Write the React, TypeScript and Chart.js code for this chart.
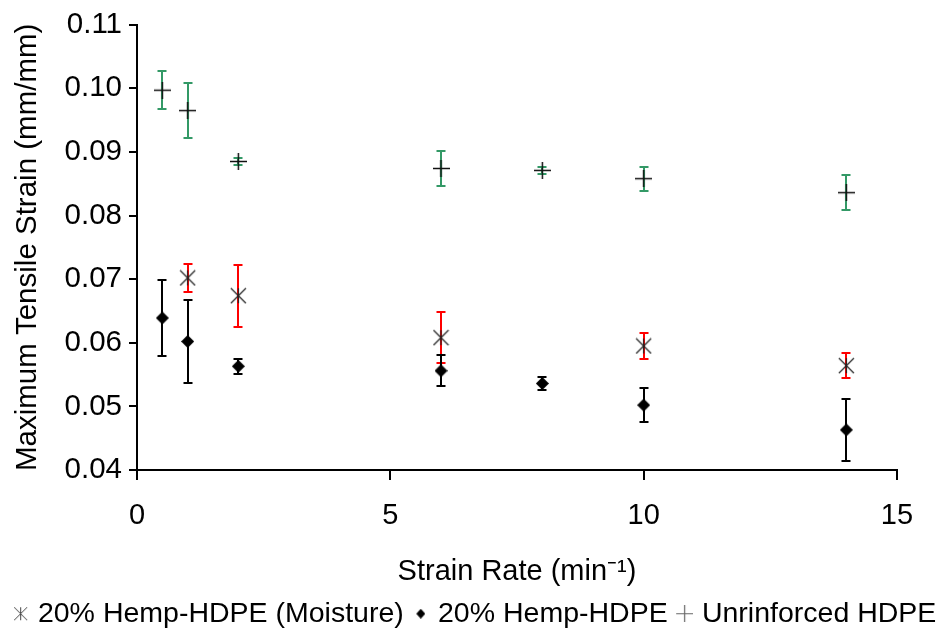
import React, { useEffect, useRef } from "react";
import { Chart, registerables } from "chart.js";

Chart.register(...registerables);

// ---- Data ----
const seriesLabels = ["20% Hemp-HDPE (Moisture)", "20% Hemp-HDPE", "Unrinforced HDPE"];

const moistureRates = [1, 2, 6, 10, 14];
const moistureStrain = [0.0702, 0.0674, 0.0608, 0.0595, 0.0564];
const moistureErr = [0.0022, 0.0049, 0.004, 0.0021, 0.002];

const hempRates = [0.5, 1, 2, 6, 8, 10, 14];
const hempStrain = [0.0639, 0.0602, 0.0563, 0.0556, 0.0536, 0.0502, 0.0463];
const hempErr = [0.006, 0.0066, 0.0012, 0.0024, 0.001, 0.0027, 0.0049];

const hdpeRates = [0.5, 1, 2, 6, 8, 10, 14];
const hdpeStrain = [0.0997, 0.0965, 0.0885, 0.0874, 0.0871, 0.0858, 0.0836];
const hdpeErr = [0.003, 0.0043, 0.0006, 0.0027, 0.0006, 0.0019, 0.0027];

const xMin = 0;
const xMax = 15;
const xStep = 5;
const yMin = 0.04;
const yMax = 0.11;
const yStep = 0.01;

const xTitle = "Strain Rate (min\u207B\u00B9)";
const yTitle = "Maximum Tensile Strain (mm/mm)";

const FONT = "'Liberation Sans', Arial, sans-serif";

// ---- marker images ----
function makeCanvas(w: number, h: number, draw: (c: CanvasRenderingContext2D) => void) {
  const cv = document.createElement("canvas");
  cv.width = w;
  cv.height = h;
  const c = cv.getContext("2d")!;
  draw(c);
  return cv;
}

function starMarker(size: number, color: string, lw: number) {
  return makeCanvas(size, size, (c) => {
    c.strokeStyle = color;
    c.lineWidth = lw;
    c.beginPath();
    c.moveTo(1, 1);
    c.lineTo(size - 1, size - 1);
    c.moveTo(size - 1, 1);
    c.lineTo(1, size - 1);
    c.moveTo(size / 2, 1);
    c.lineTo(size / 2, size - 1);
    c.stroke();
  });
}

function plusMarker(size: number, color: string, lw: number) {
  return makeCanvas(size, size, (c) => {
    c.strokeStyle = color;
    c.lineWidth = lw;
    c.beginPath();
    c.moveTo(0, size / 2);
    c.lineTo(size, size / 2);
    c.moveTo(size / 2, 0);
    c.lineTo(size / 2, size);
    c.stroke();
  });
}

function diamondMarker(w: number, h: number, color: string) {
  return makeCanvas(w, h, (c) => {
    c.fillStyle = color;
    c.beginPath();
    c.moveTo(w / 2, 0);
    c.lineTo(w, h / 2);
    c.lineTo(w / 2, h);
    c.lineTo(0, h / 2);
    c.closePath();
    c.fill();
  });
}

// shift a marker image to the right inside a wider transparent canvas
function shiftRight(src: HTMLCanvasElement, off: number) {
  return makeCanvas(src.width + 2 * off, src.height, (c) => {
    c.drawImage(src, 2 * off, 0);
  });
}

const errorBarPlugin = {
  id: "errorBars",
  beforeDatasetsDraw(chart: any) {
    const { ctx } = chart;
    const xs = chart.scales.x;
    const ys = chart.scales.y;
    const drawOrder = [2, 0, 1];
    drawOrder.forEach((i) => {
      const ds = chart.data.datasets[i];
      const meta = chart.getDatasetMeta(i);
      if (!ds || meta.hidden) return;
      ctx.save();
      ctx.strokeStyle = ds.errorColor;
      ctx.lineWidth = 2;
      ds.data.forEach((p: any, j: number) => {
        const e = ds.errors[j];
        const px = Math.round(xs.getPixelForValue(p.x));
        const top = Math.round(ys.getPixelForValue(p.y + e));
        const bot = Math.round(ys.getPixelForValue(p.y - e));
        ctx.beginPath();
        ctx.moveTo(px, top);
        ctx.lineTo(px, bot);
        ctx.moveTo(px - 4.5, top);
        ctx.lineTo(px + 4.5, top);
        ctx.moveTo(px - 4.5, bot);
        ctx.lineTo(px + 4.5, bot);
        ctx.stroke();
      });
      ctx.restore();
    });
  },
};

export default function App() {
  const ref = useRef<HTMLCanvasElement | null>(null);

  useEffect(() => {
    document.body.style.margin = "0";
    const canvas = ref.current;
    if (!canvas) return;

    const chartMarkers = [
      starMarker(17, "#222222", 1.2),
      diamondMarker(13, 13, "#000000"),
      plusMarker(17, "#111111", 1.5),
    ];
    const legendMarkers = [
      shiftRight(starMarker(15, "#444444", 1), 7),
      shiftRight(diamondMarker(9, 10, "#000000"), 7),
      shiftRight(plusMarker(17, "#666666", 1.2), 7),
    ];

    const chart = new Chart(canvas, {
      type: "scatter",
      data: {
        datasets: [
          {
            label: seriesLabels[0],
            data: moistureRates.map((x, i) => ({ x, y: moistureStrain[i] })),
            errors: moistureErr,
            errorColor: "#ff0000",
            pointStyle: chartMarkers[0],
            pointRadius: 6,
            backgroundColor: "#333333",
            borderColor: "#333333",
          } as any,
          {
            label: seriesLabels[1],
            data: hempRates.map((x, i) => ({ x, y: hempStrain[i] })),
            errors: hempErr,
            errorColor: "#000000",
            pointStyle: chartMarkers[1],
            pointRadius: 6,
            backgroundColor: "#000000",
            borderColor: "#000000",
          } as any,
          {
            label: seriesLabels[2],
            data: hdpeRates.map((x, i) => ({ x, y: hdpeStrain[i] })),
            errors: hdpeErr,
            errorColor: "#339966",
            pointStyle: chartMarkers[2],
            pointRadius: 6,
            backgroundColor: "#111111",
            borderColor: "#111111",
          } as any,
        ],
      },
      options: {
        responsive: false,
        animation: false,
        devicePixelRatio: 1,
        layout: { padding: { top: 19, left: 0, right: 0, bottom: -4 } },
        plugins: {
          tooltip: { enabled: false },
          legend: {
            position: "bottom",
            align: "center",
            labels: {
              usePointStyle: true,
              boxWidth: 20,
              boxHeight: 10,
              padding: 0,
              color: "#000000",
              font: { family: FONT, size: 28.5 },
              generateLabels: (ch: any) => {
                const items = (Chart as any).defaults.plugins.legend.labels.generateLabels(ch);
                items.forEach((it: any, i: number) => {
                  it.pointStyle = legendMarkers[i];
                });
                return items;
              },
            },
          },
        },
        scales: {
          x: {
            type: "linear",
            min: xMin,
            max: xMax,
            afterFit: (s: any) => {
              s.height = 129.5;
              s.paddingRight = 43;
            },
            ticks: {
              stepSize: xStep,
              color: "#000000",
              font: { family: FONT, size: 29 },
              padding: 19,
              maxRotation: 0,
            },
            grid: {
              drawOnChartArea: false,
              drawTicks: true,
              tickLength: 10,
              color: "#000000",
              lineWidth: 2,
            },
            border: { display: true, color: "#000000", width: 2 },
            title: {
              display: true,
              text: xTitle,
              color: "#000000",
              font: { family: FONT, size: 29, lineHeight: 1.2 },
              padding: { top: 0, bottom: 10 },
            },
          },
          y: {
            type: "linear",
            min: yMin,
            max: yMax,
            afterFit: (s: any) => {
              s.width = 137;
            },
            ticks: {
              stepSize: yStep,
              color: "#000000",
              font: { family: FONT, size: 29.5 },
              padding: 7,
              callback: (v: any) => Number(v).toFixed(2),
            },
            grid: {
              drawOnChartArea: false,
              drawTicks: true,
              tickLength: 8,
              color: "#000000",
              lineWidth: 2,
            },
            border: { display: true, color: "#000000", width: 2 },
            title: {
              display: true,
              text: yTitle,
              color: "#000000",
              font: { family: FONT, size: 29.5, lineHeight: 1.2 },
              padding: { top: 10, bottom: 0 },
            },
          },
        },
      } as any,
      plugins: [errorBarPlugin],
    });

    return () => {
      chart.destroy();
    };
  }, []);

  return (
    <div style={{ width: 940, height: 634 }}>
      <canvas ref={ref} width={940} height={634} style={{ display: "block" }} />
    </div>
  );
}
